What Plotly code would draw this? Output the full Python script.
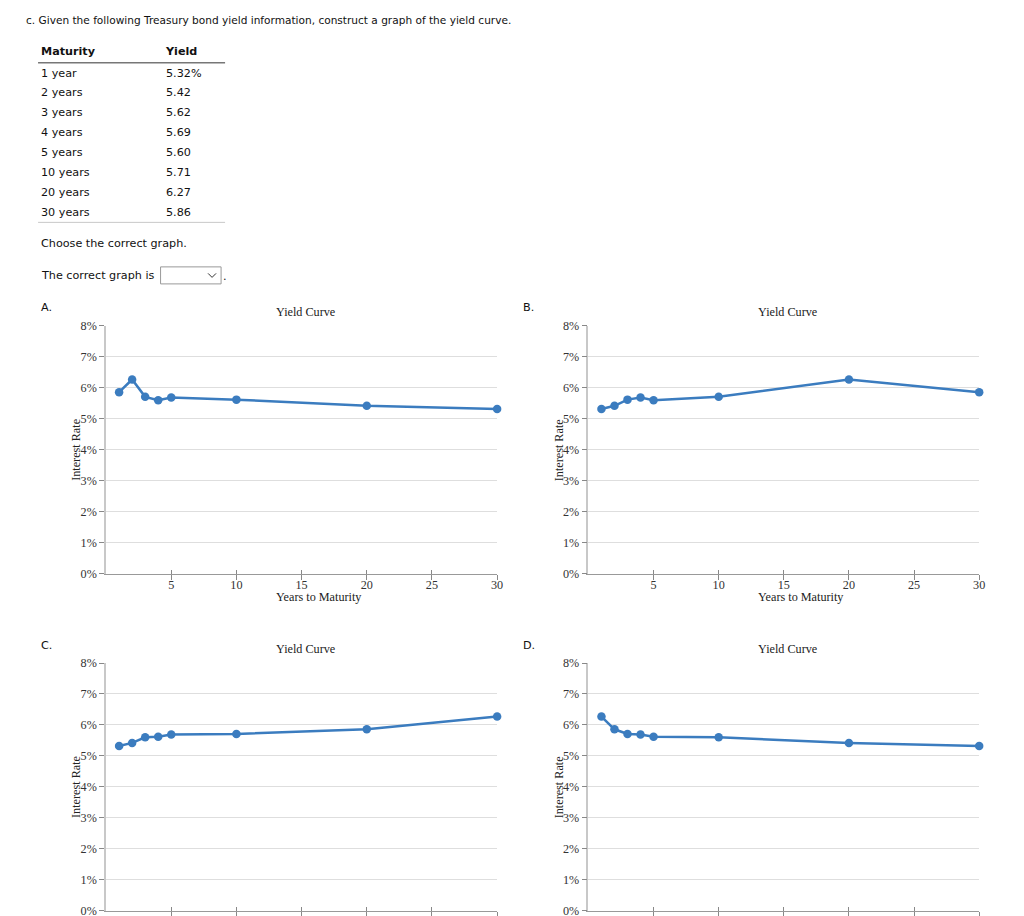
import plotly.graph_objects as go

# The page's body has an 8px margin, and the photo of the page is slightly rescaled;
# positions below are given in the reference picture's pixels and converted here.
OFF = 8
W, H = 1024, 934
SX, SY, DY = 0.994, 0.972, 6.5   # base conversion
KY, BY = 1.013, -0.25            # measured residual vertical correction
FS = 1.0 / 0.983                 # font compensation for the photo rescale

# ---------------- data ----------------
maturity_labels = ["1 year", "2 years", "3 years", "4 years", "5 years", "10 years", "20 years", "30 years"]
yield_labels = ["5.32%", "5.42", "5.62", "5.69", "5.60", "5.71", "6.27", "5.86"]

years = [1, 2, 3, 4, 5, 10, 20, 30]
yields_a = [5.86, 6.27, 5.71, 5.60, 5.69, 5.62, 5.42, 5.32]
yields_b = [5.32, 5.42, 5.62, 5.69, 5.60, 5.71, 6.27, 5.86]
yields_c = [5.32, 5.42, 5.60, 5.62, 5.69, 5.71, 5.86, 6.27]
yields_d = [6.27, 5.86, 5.71, 5.69, 5.62, 5.60, 5.42, 5.32]

option_letters = ["A.", "B.", "C.", "D."]
y_ticks = [0, 1, 2, 3, 4, 5, 6, 7, 8]
y_tick_labels = ["0%", "1%", "2%", "3%", "4%", "5%", "6%", "7%", "8%"]
x_ticks = [5, 10, 15, 20, 25, 30]

# ---------------- helpers (reference pixel -> paper fraction) ----------------
def px_raw(x):
    return (x / SX - OFF) / W

def py_raw(y):
    y = (y - BY) / KY
    return 1 - ((y - DY) / SY - OFF) / H

def px(x):
    return min(1.0, max(0.0, px_raw(x)))

def py(y):
    return min(1.0, max(0.0, py_raw(y)))

LINE = "#3b7cbf"
SANS = "DejaVu Sans"
SERIF = "Liberation Serif"

fig = go.Figure()
annotations = []
shapes = []

def text(x, y, s, size=11, bold=False, family=SANS, xanchor="left", color="#111", angle=0):
    annotations.append(dict(
        x=px_raw(x), y=py_raw(y), xref="paper", yref="paper", text=("<b>%s</b>" % s) if bold else s,
        showarrow=False, xanchor=xanchor, yanchor="middle", textangle=angle,
        font=dict(family=family, size=size * FS, color=color)))

# ---------------- header text & table ----------------
text(24, 19, "c. Given the following Treasury bond yield information, construct a graph of the yield curve.", size=10.4)
text(39, 51, "Maturity", bold=True)
text(163, 51, "Yield", bold=True)
shapes.append(dict(type="line", xref="paper", yref="paper", x0=px(38), x1=px(225), y0=py(62), y1=py(62),
                   line=dict(color="#777", width=1.5)))
row_y0, row_dy = 72.3, 19.85
for i, (m, v) in enumerate(zip(maturity_labels, yield_labels)):
    yy = row_y0 + i * row_dy
    text(39, yy, m)
    text(164, yy, v)
shapes.append(dict(type="line", xref="paper", yref="paper", x0=px(38), x1=px(225), y0=py(221.5), y1=py(221.5),
                   line=dict(color="#c8c8c8", width=1)))
text(39, 243, "Choose the correct graph.")
text(39, 275, "The correct graph is")
shapes.append(dict(type="rect", xref="paper", yref="paper", x0=px(160.5), x1=px(221), y0=py(266), y1=py(283),
                   line=dict(color="#999", width=1), fillcolor="white"))
shapes.append(dict(type="path", xref="paper", yref="paper",
                   path="M %f %f L %f %f L %f %f" % (px(208), py(272.5), px(212), py(276.5), px(216), py(272.5)),
                   line=dict(color="#333", width=1)))
text(221, 276, ".")

# ---------------- charts ----------------
panels = [
    dict(data=yields_a, lx=39, ly=307, x0=106, x1=497, ytop=325, ybot=572.7),
    dict(data=yields_b, lx=521, ly=307, x0=588.3, x1=979, ytop=325, ybot=572.7),
    dict(data=yields_c, lx=39, ly=644, x0=106, x1=497, ytop=662, ybot=909.6),
    dict(data=yields_d, lx=521, ly=644, x0=588.3, x1=979, ytop=662, ybot=909.6),
]

layout_axes = {}
for k, (p, letter) in enumerate(zip(panels, option_letters)):
    n = "" if k == 0 else str(k + 1)
    m = str(k + 5)
    fig.add_trace(go.Scatter(
        x=years, y=p["data"], mode="lines+markers", xaxis="x" + n, yaxis="y" + n,
        line=dict(color=LINE, width=2.5), marker=dict(color=LINE, size=8.5), showlegend=False,
        cliponaxis=False))
    layout_axes["xaxis" + n] = dict(
        domain=[px(p["x0"]), px(p["x1"])], anchor="y" + n, range=[0, 30],
        tickvals=x_ticks, ticks="inside", ticklen=4, tickcolor="#888", tickwidth=1,
        showline=True, linecolor="#999", linewidth=1.2, showgrid=False, zeroline=False,
        tickfont=dict(family=SERIF, size=12 * FS, color="#333"), fixedrange=True)
    layout_axes["xaxis" + m] = dict(
        domain=[px(p["x0"]), px(p["x1"])], anchor="y" + n, overlaying="x" + n, range=[0, 30],
        tickvals=x_ticks, ticks="outside", ticklen=5, tickcolor="#888", tickwidth=1,
        showticklabels=False, showline=False, showgrid=False, zeroline=False, fixedrange=True)
    layout_axes["yaxis" + n] = dict(
        domain=[py(p["ybot"]), py(p["ytop"])], anchor="x" + n, range=[0, 8],
        tickvals=y_ticks, ticktext=y_tick_labels, ticks="outside", ticklen=5, tickcolor="#888", tickwidth=1,
        showline=True, linecolor="#c8c8c8", linewidth=1.5, showgrid=True, gridcolor="#dedede", gridwidth=1,
        zeroline=False, tickfont=dict(family=SERIF, size=12 * FS, color="#333"), fixedrange=True)
    cx = (p["x0"] + p["x1"]) / 2
    text(p["lx"], p["ly"], letter)
    text(cx + 3.5, p["ytop"] - 14, "Yield Curve", family=SERIF, size=12, xanchor="center", color="#222")
    text(cx + 17, p["ybot"] + 23, "Years to Maturity", family=SERIF, size=12, xanchor="center", color="#222")
    text(p["x0"] - 30, (p["ytop"] + p["ybot"]) / 2, "Interest Rate", family=SERIF, size=12,
         xanchor="center", color="#222", angle=-90)

for k in range(4):
    n = "" if k == 0 else str(k + 1)
    fig.add_trace(go.Scatter(x=[None], y=[None], xaxis="x" + str(k + 5), yaxis="y" + n,
                             showlegend=False, hoverinfo="skip"))

fig.update_layout(
    width=W, height=H, margin=dict(l=0, r=0, t=0, b=0),
    paper_bgcolor="white", plot_bgcolor="white",
    annotations=annotations, shapes=shapes, **layout_axes)

fig.write_html("out.html", config=dict(displayModeBar=False))
